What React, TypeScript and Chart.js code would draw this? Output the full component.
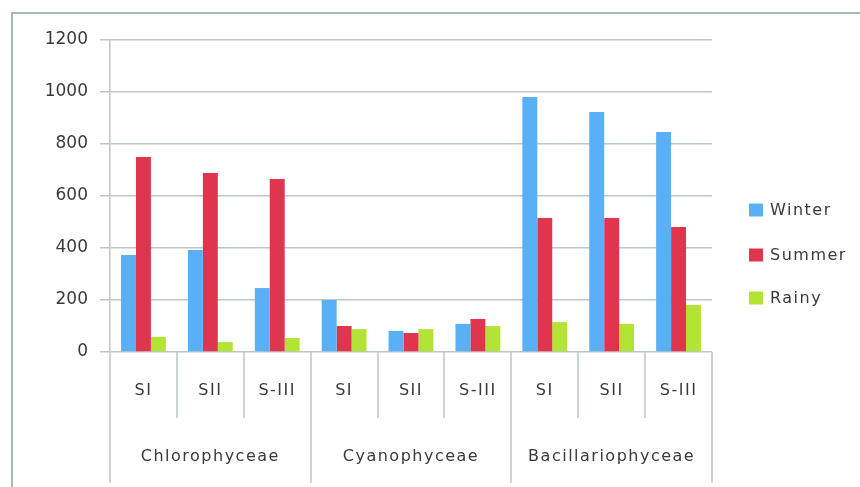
import React, { useEffect, useRef } from "react";
import { Chart, registerables } from "chart.js";

Chart.register(...registerables);

const groups = ["Chlorophyceae", "Cyanophyceae", "Bacillariophyceae"];
const sites = ["SI", "SII", "S-III"];
const categories = ["SI", "SII", "S-III", "SI", "SII", "S-III", "SI", "SII", "S-III"];
const winter = [373, 392, 246, 200, 81, 108, 981, 923, 846];
const summer = [750, 688, 665, 100, 73, 127, 515, 515, 481];
const rainy = [58, 38, 54, 88, 88, 100, 115, 108, 181];
const seriesNames = ["Winter", "Summer", "Rainy"];
const seriesColors = ["#59B0F4", "#E0344F", "#B3E335"];
const yTicks = [0, 200, 400, 600, 800, 1000, 1200];

const TEXT = "#3a3a3a";
const GRID = "#bcc6c6";
const FONT = "DejaVu Sans";

const decorPlugin = {
  id: "decor",
  afterDraw(chart: any) {
    const ctx = chart.ctx as CanvasRenderingContext2D;
    const area = chart.chartArea;
    const xs = chart.scales.x;
    ctx.save();
    // frame
    ctx.strokeStyle = "#a9b7b7";
    ctx.lineWidth = 2;
    ctx.beginPath();
    ctx.moveTo(12, 487);
    ctx.lineTo(12, 13);
    ctx.lineTo(860, 13);
    ctx.stroke();

    const n = categories.length;
    const w = (area.right - area.left) / n;
    ctx.strokeStyle = GRID;
    ctx.lineWidth = 1.5;
    for (let i = 0; i <= n; i++) {
      const x = Math.round(area.left + i * w);
      const end = i % 3 === 0 ? 483 : 418;
      ctx.beginPath();
      ctx.moveTo(x, area.bottom);
      ctx.lineTo(x, end);
      ctx.stroke();
    }
    (ctx as any).letterSpacing = "1.5px";
    ctx.fillStyle = TEXT;
    ctx.font = `16px "${FONT}"`;
    ctx.textAlign = "center";
    ctx.textBaseline = "middle";
    categories.forEach((c, i) => {
      const x = xs.getPixelForValue(i);
      ctx.fillText(c, x, 391);
    });
    groups.forEach((g, gi) => {
      const x = area.left + (gi * 3 + 1.5) * w;
      ctx.fillText(g, x, 457);
    });
    // legend
    ctx.textAlign = "left";
    const ly = [210, 255, 298];
    seriesNames.forEach((s, i) => {
      ctx.fillStyle = seriesColors[i];
      ctx.fillRect(749, ly[i] - 6.5, 14, 13);
      ctx.fillStyle = TEXT;
      ctx.fillText(s, 770, ly[i] + 1);
    });
    ctx.restore();
  },
};

export default function App() {
  const ref = useRef<HTMLCanvasElement>(null);
  useEffect(() => {
    if (!ref.current) return;
    const chart = new Chart(ref.current, {
      type: "bar",
      data: {
        labels: categories,
        datasets: [winter, summer, rainy].map((d, i) => ({
          label: seriesNames[i],
          data: d,
          backgroundColor: seriesColors[i],
          borderWidth: 0,
          barPercentage: 1,
          categoryPercentage: 0.67,
        })),
      },
      options: {
        animation: false,
        responsive: false,
        layout: { padding: { left: 30, right: 148, top: 40, bottom: 0 } },
        plugins: { legend: { display: false }, tooltip: { enabled: false } },
        scales: {
          x: {
            grid: { display: false },
            border: { display: false },
            ticks: { display: false },
            afterFit: (s: any) => {
              s.height = 135;
            },
          },
          y: {
            min: 0,
            max: 1200,
            afterBuildTicks: (s: any) => {
              s.ticks = yTicks.map((v) => ({ value: v }));
            },
            grid: { color: GRID, lineWidth: 1.5, tickLength: 10 },
            border: { color: GRID, width: 1.5 },
            ticks: {
              color: TEXT,
              padding: 12,
              font: { family: FONT, size: 17 },
              callback: (v: any) => String(v),
            },
            afterFit: (s: any) => {
              s.width = 80;
            },
          },
        },
      },
      plugins: [decorPlugin],
    });
    return () => chart.destroy();
  }, []);
  return (
    <div style={{ position: "fixed", left: 0, top: 0, width: 860, height: 487, background: "#fff" }}>
      <canvas ref={ref} width={860} height={487} style={{ width: 860, height: 487 }} />
    </div>
  );
}
